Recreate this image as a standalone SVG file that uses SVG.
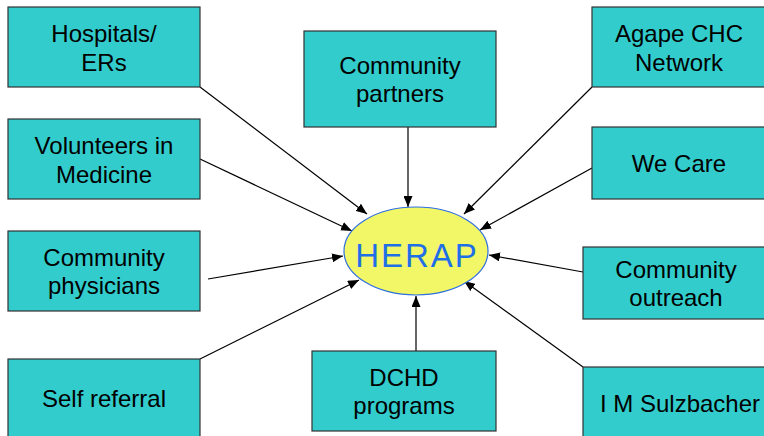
<svg xmlns="http://www.w3.org/2000/svg" width="764" height="436" viewBox="0 0 764 436">
<style>
.box{fill:#33CCCC;stroke:#333333;stroke-width:1.2}
.t{font-family:"Liberation Sans",Arial,sans-serif;font-size:24px;fill:#000;text-anchor:middle}
.c{stroke:#000;stroke-width:1.2;fill:none;marker-end:url(#ah)}
</style>
<defs>
<marker id="ah" viewBox="0 0 11 9" refX="11" refY="4.5" markerWidth="11" markerHeight="9" markerUnits="userSpaceOnUse" orient="auto">
<path d="M0,0 L11,4.5 L0,9 Z" fill="#000"/>
</marker>
</defs>
<rect width="764" height="436" fill="#fff"/>
<g id="connectors">
<line class="c" x1="200" y1="87" x2="367" y2="214"/>
<line class="c" x1="200" y1="159" x2="352" y2="231"/>
<line class="c" x1="208" y1="279" x2="343" y2="256"/>
<line class="c" x1="200" y1="359" x2="359" y2="280"/>
<line class="c" x1="408" y1="127" x2="408" y2="207"/>
<line class="c" x1="416" y1="351" x2="416" y2="296"/>
<line class="c" x1="592" y1="87" x2="464" y2="214"/>
<line class="c" x1="592" y1="168" x2="480" y2="230"/>
<line class="c" x1="583" y1="272" x2="489" y2="255"/>
<line class="c" x1="583" y1="367" x2="464" y2="281"/>
</g>
<g id="hospitals"><rect class="box" x="8" y="7" width="192" height="80"/><text class="t" x="104" y="42">Hospitals/</text><text class="t" x="104" y="71">ERs</text></g>
<g id="volunteers"><rect class="box" x="8" y="119" width="192" height="80"/><text class="t" x="104" y="154">Volunteers in</text><text class="t" x="104" y="183">Medicine</text></g>
<g id="physicians"><rect class="box" x="8" y="231" width="192" height="80"/><text class="t" x="104" y="266">Community</text><text class="t" x="104" y="294">physicians</text></g>
<g id="self"><rect class="box" x="8" y="359" width="192" height="90"/><text class="t" x="104" y="407">Self referral</text></g>
<g id="partners"><rect class="box" x="304" y="31" width="192" height="96"/><text class="t" x="400" y="74">Community</text><text class="t" x="400" y="102">partners</text></g>
<g id="dchd"><rect class="box" x="312" y="351" width="184" height="80"/><text class="t" x="404" y="386">DCHD</text><text class="t" x="404" y="414">programs</text></g>
<g id="agape"><rect class="box" x="592" y="7" width="180" height="80"/><text class="t" x="679" y="42">Agape CHC</text><text class="t" x="679" y="71">Network</text></g>
<g id="wecare"><rect class="box" x="592" y="127" width="180" height="72"/><text class="t" x="679" y="172">We Care</text></g>
<g id="outreach"><rect class="box" x="583" y="247" width="190" height="72"/><text class="t" x="676" y="278">Community</text><text class="t" x="676" y="306">outreach</text></g>
<g id="sulzbacher"><rect class="box" x="583" y="367" width="190" height="80"/><text class="t" x="680" y="412">I M Sulzbacher</text></g>
<g id="herap"><ellipse cx="416" cy="251" rx="72" ry="44" fill="#F2F768" stroke="#2E6FE0" stroke-width="1.2"/><text x="417" y="267" font-family="'Liberation Sans',Arial,sans-serif" font-size="33" letter-spacing="2" fill="#1F6FE6" text-anchor="middle">HERAP</text></g>
</svg>
